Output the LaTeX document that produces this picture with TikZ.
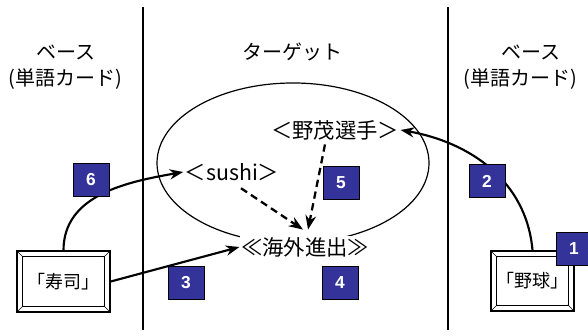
\documentclass[tikz,border=0pt]{standalone}
\usepackage{fontspec}
\setmainfont{Noto Sans CJK JP}
\newfontfamily\numfont{Liberation Sans}
\usetikzlibrary{arrows.meta,positioning,calc}
\definecolor{numblue}{RGB}{51,51,153}

\begin{document}
\begin{tikzpicture}[x=0.75pt, y=0.75pt, >=Stealth,
    numbox/.style={draw, fill=numblue, text=white, inner sep=0pt,
        minimum width=27pt, minimum height=24.75pt,
        font=\numfont\bfseries\fontsize{13}{13}\selectfont},
    card/.style={draw, line width=1.1pt, inner sep=0pt,
        font=\fontsize{13.5}{14}\selectfont},
    word/.style={inner sep=1pt, font=\fontsize{16}{17}\selectfont},
    head/.style={inner sep=0pt, font=\fontsize{15}{16}\selectfont},
    link/.style={line width=1.6pt, ->},
    hint/.style={line width=1.7pt, ->, dash pattern=on 5.5pt off 3.5pt}]
    \useasboundingbox (0,0) rectangle (588,335);

    % Columns
    \draw[line width=1.1pt] (143,328) -- (143,5);
    \draw[line width=1.1pt] (448,328) -- (448,5);
    \node[head] (base left) at (66,283) {ベース};
    \node[head] (card left) at (65,256) {(単語カード)};
    \node[head] (target) at (292,283) {ターゲット};
    \node[head] (base right) at (531,283) {ベース};
    \node[head] (card right) at (520,256) {(単語カード)};

    % Target domain
    \draw[line width=0.9pt] (293,172) ellipse [x radius=136, y radius=80];
    \node[word] (nomo) at (335,205) {＜野茂選手＞};
    \node[word] (sushi) at (232,163) {＜sushi＞};
    \node[word, fill=white] (kaigai) at (305,88) {≪海外進出≫};

    % Word cards
    \node[card, minimum width=69.75pt, minimum height=45.75pt] (sushicard) at (63.5,53.5) {「寿司」};
    \node[card, minimum width=62.25pt, minimum height=45pt] (yakyucard) at (532.5,54) {「野球」};
    \foreach \c in {sushicard,yakyucard} {
        \draw[double, double distance=0.8pt, line width=0.5pt]
            ($(\c.north west)+(7,-7)$) rectangle ($(\c.south east)+(-7,7)$);
        \draw (\c.north west) -- ++(7,-7) (\c.north east) -- ++(-7,-7)
              (\c.south west) -- ++(7,7) (\c.south east) -- ++(-7,7);
    }

    % Mappings
    \draw[link] (sushicard.north) to[out=90, in=190] (sushi.west);
    \draw[link] (sushicard.east) -- (kaigai.west);
    \draw[link] (yakyucard.north) to[out=95, in=-10] (nomo.east);
    \draw[hint] ($(sushi.south)+(9,-6)$) -- ($(kaigai.north)+(-2,6)$);
    \draw[hint] ($(nomo.south)+(-10,-3)$) -- ($(kaigai.north)+(3,6)$);

    % Steps
    \node[numbox] (n1) at (574,86) {1};
    \node[numbox] (n2) at (487,154) {2};
    \node[numbox] (n3) at (186,52) {3};
    \node[numbox] (n4) at (340,52) {4};
    \node[numbox] (n5) at (341,152) {5};
    \node[numbox] (n6) at (91,155) {6};
\end{tikzpicture}
\end{document}
